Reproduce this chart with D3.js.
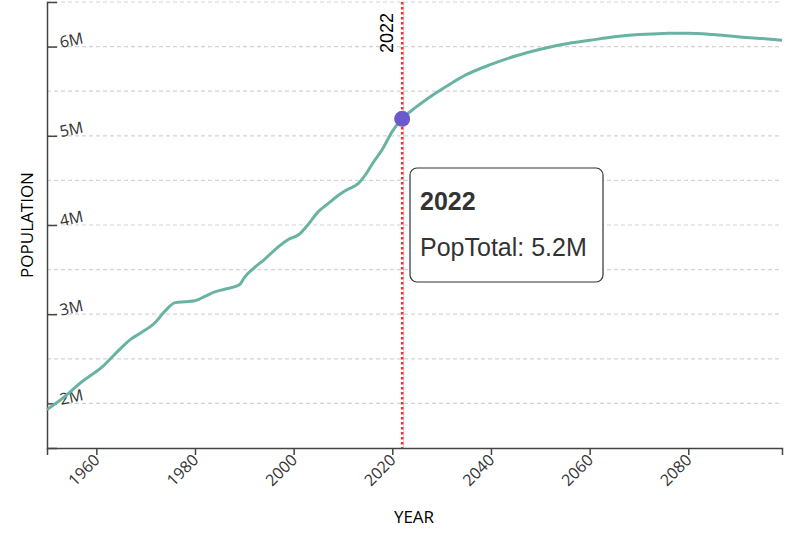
<!DOCTYPE html>
<html><head><meta charset="utf-8">
<script src="https://cdn.jsdelivr.net/npm/d3@7"></script>
<style>body{margin:0;background:#fff}svg{display:block}</style>
</head><body><svg id="chart" width="800" height="543"></svg>
<script>
// Years and total population (millions)
const years = [1950,1953,1957,1961,1965,1967,1969,1972,1974,1976,1978,1980,1982,1984,1986,1989,1990,1992,1994,1997,1999,2001,2003,2005,2007,2009,2011,2013,2015,2016,2018,2020,2022,2025,2028,2032,2035,2040,2045,2050,2055,2060,2065,2070,2075,2080,2085,2090,2095,2099];
const popTotal = [1.93,2.05,2.24,2.40,2.62,2.72,2.79,2.91,3.04,3.13,3.14,3.15,3.20,3.25,3.28,3.33,3.41,3.52,3.61,3.76,3.84,3.89,4.01,4.15,4.24,4.33,4.40,4.46,4.60,4.69,4.85,5.05,5.19,5.33,5.45,5.59,5.685,5.80,5.895,5.97,6.03,6.07,6.11,6.135,6.148,6.15,6.135,6.11,6.09,6.07];
const yTicks = [2,3,4,5,6];
const yGrid = [2,2.5,3,3.5,4,4.5,5,5.5,6,6.5];
const xTicks = [1960,1980,2000,2020,2040,2060,2080];
const yDomain = [1.5,6.5];
const highlightYear = 2022;
const highlightValue = 5.19;
const highlightLabel = "5.2M";

const data = years.map((y,i)=>({year:y, pop:popTotal[i]}));
const svg = d3.select("#chart");
const L=47, R=782, T=2, B=448;
const x = d3.scaleLinear().domain([1950,2099]).range([L,R]);
const y = d3.scaleLinear().domain(yDomain).range([B,T]);

// gridlines
svg.append("g").selectAll("line").data(yGrid).join("line")
  .attr("x1",L).attr("x2",R).attr("y1",d=>y(d)).attr("y2",d=>y(d))
  .attr("stroke","#d3d3d3").attr("stroke-width",1.2).attr("stroke-dasharray","4,3");

// y axis (ticks inside, labels inside rotated)
const ya = svg.append("g").attr("transform",`translate(${L},0)`)
  .call(d3.axisRight(y).tickValues(yTicks).tickSize(10).tickFormat(d=>d+"M"));
ya.select(".domain").attr("stroke","#444").attr("stroke-width",1.5);
ya.selectAll(".tick line").attr("stroke","#444").attr("stroke-width",1.5);
ya.selectAll(".tick text").attr("x",0).attr("dy",0)
  .attr("transform","translate(14,1) rotate(-12)")
  .attr("font-family","'Open Sans', sans-serif").attr("font-size",16).attr("fill","#333")
  .attr("text-anchor","start");

// x axis
const xa = svg.append("g").attr("transform",`translate(0,${B})`)
  .call(d3.axisBottom(x).tickValues(xTicks).tickSize(7).tickSizeOuter(7).tickFormat(d3.format("d")));
xa.select(".domain").attr("stroke","#444").attr("stroke-width",1.5);
xa.selectAll(".tick line").attr("stroke","#444").attr("stroke-width",1.5);
xa.selectAll(".tick text")
  .attr("font-family","'Open Sans', sans-serif").attr("font-size",16).attr("fill","#333")
  .attr("text-anchor","end").attr("dy",0).attr("y",0)
  .attr("transform","translate(4,13) rotate(-45)");

// axis titles
svg.append("text").attr("x",414).attr("y",523).attr("text-anchor","middle")
  .attr("font-family","'Open Sans', sans-serif").attr("font-size",17).attr("fill","#000").text("YEAR");
svg.append("text").attr("transform","translate(33,225) rotate(-90)").attr("text-anchor","middle")
  .attr("font-family","'Open Sans', sans-serif").attr("font-size",17).attr("fill","#000").text("POPULATION");

// line
svg.append("path").datum(data)
  .attr("d",d3.line().x(d=>x(d.year)).y(d=>y(d.pop)).curve(d3.curveMonotoneX))
  .attr("fill","none").attr("stroke","#69b3a2").attr("stroke-width",3);

// highlight lines
const hx = x(highlightYear);
svg.append("line").attr("x1",hx+1.5).attr("x2",hx+1.5).attr("y1",T).attr("y2",B)
  .attr("stroke","#ccc").attr("stroke-width",1);
svg.append("line").attr("x1",hx).attr("x2",hx).attr("y1",T).attr("y2",B)
  .attr("stroke","#ff2a2a").attr("stroke-width",2.5).attr("stroke-dasharray","2.5,2.5");
svg.append("text").attr("transform",`translate(${hx-9},13) rotate(-90)`).attr("text-anchor","end")
  .attr("font-family","'Liberation Sans', Arial, sans-serif").attr("font-size",18).attr("fill","#000")
  .text(String(highlightYear));

// point
svg.append("circle").attr("cx",hx).attr("cy",y(highlightValue)).attr("r",8).attr("fill","#6a5acd");

// tooltip
const tg = svg.append("g").attr("transform","translate(410,168)");
tg.append("rect").attr("width",193).attr("height",114).attr("rx",7).attr("ry",7)
  .attr("fill","#fff").attr("stroke","#333").attr("stroke-width",1.2);
tg.append("text").attr("x",10).attr("y",42).attr("font-family","'Liberation Sans', Arial, sans-serif")
  .attr("font-size",25).attr("font-weight","bold").attr("fill","#333").text(String(highlightYear));
tg.append("text").attr("x",10).attr("y",88).attr("font-family","'Liberation Sans', Arial, sans-serif")
  .attr("font-size",25).attr("fill","#333").text("PopTotal: " + highlightLabel);
</script></body></html>
